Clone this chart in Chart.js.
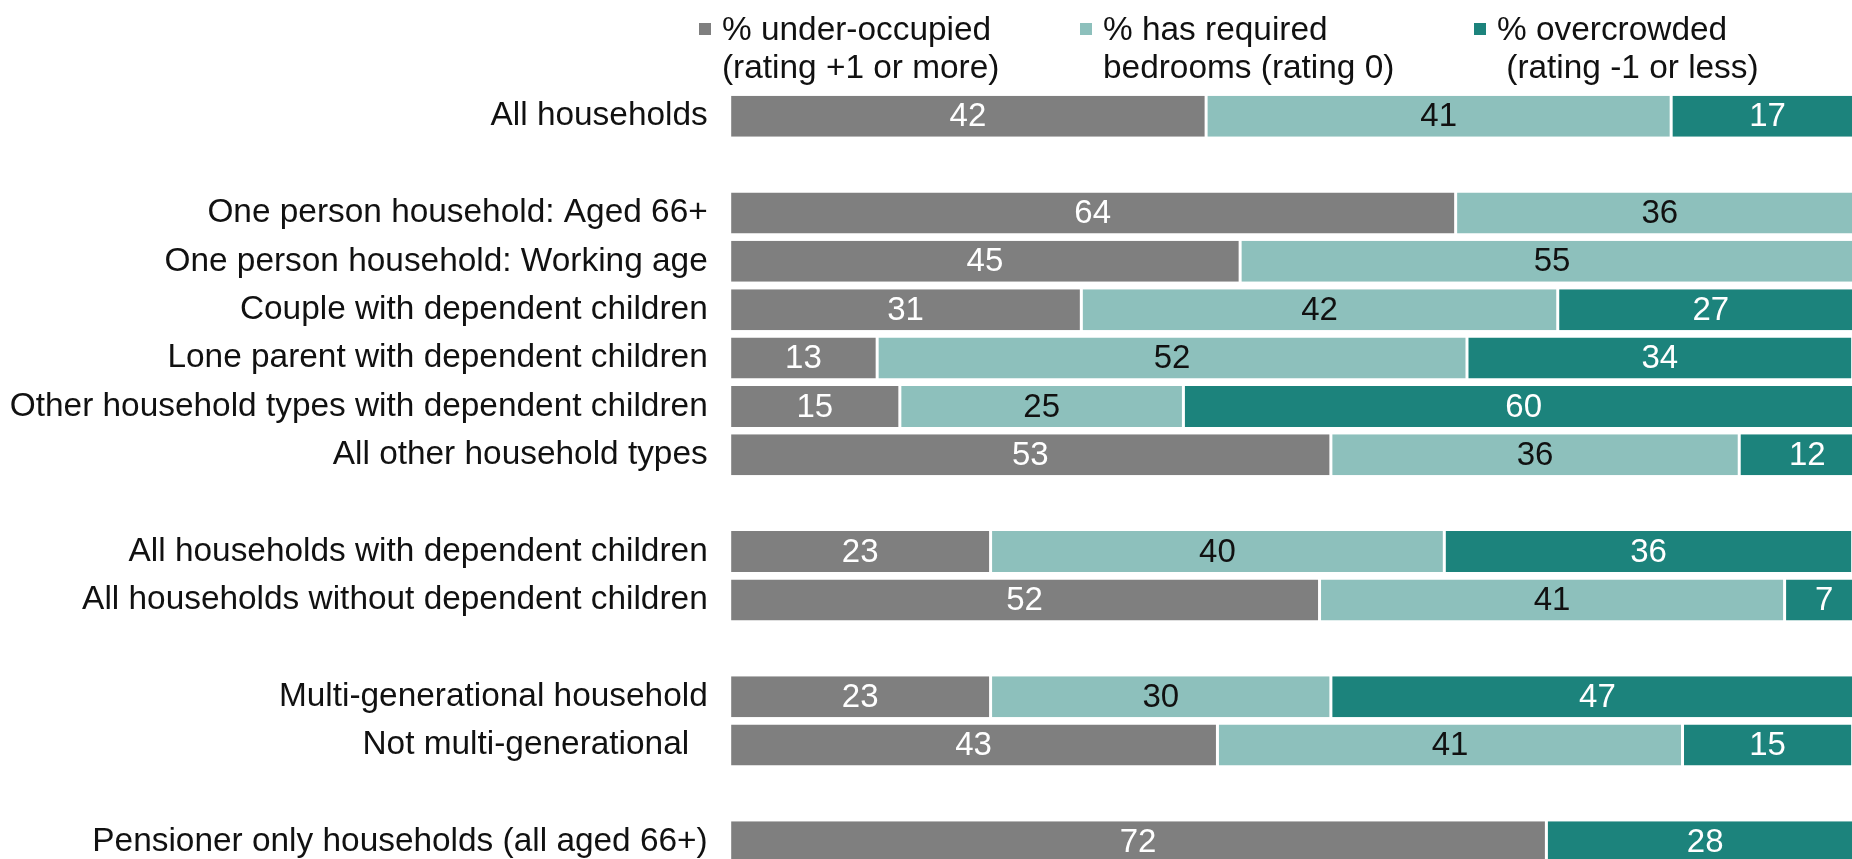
<!DOCTYPE html>
<html>
<head>
<meta charset="utf-8">
<script src="https://cdn.jsdelivr.net/npm/chart.js@4"></script>
<style>
  html, body { margin: 0; padding: 0; background: #ffffff; overflow: hidden; }
  #chart { position: absolute; left: 0; top: 0; }
</style>
</head>
<body>
<canvas id="chart" width="1870" height="866"></canvas>
<script>
// Household groups; empty strings are spacer rows between groups
const categories = [
  'All households',
  '',
  'One person household: Aged 66+',
  'One person household: Working age',
  'Couple with dependent children',
  'Lone parent with dependent children',
  'Other household types with dependent children',
  'All other household types',
  '',
  'All households with dependent children',
  'All households without dependent children',
  '',
  'Multi-generational household',
  'Not multi-generational  ',
  '',
  'Pensioner only households (all aged 66+)'
];

// Percentages by bedroom occupancy rating
const underOccupied = [42, null, 64, 45, 31, 13, 15, 53, null, 23, 52, null, 23, 43, null, 72];
const hasRequired   = [41, null, 36, 55, 42, 52, 25, 36, null, 40, 41, null, 30, 41, null, 0];
const overcrowded   = [17, null, 0, 0, 27, 34, 60, 12, null, 36, 7, null, 47, 15, null, 28];

// Legend entries, two lines each
const seriesNames = [
  ['% under-occupied', '(rating +1 or more)'],
  ['% has required', 'bedrooms (rating 0)'],
  ['% overcrowded', ' (rating -1 or less)']
];

const FONT = '"Liberation Sans", Arial, Helvetica, sans-serif';
const TEXT_SIZE = 33.4;
const VALUE_SIZE = 33;
const colors = ['#7f7f7f', '#8dc0bc', '#1c837c'];
const labelColors = ['#ffffff', '#111111', '#ffffff'];

// Two-line legend drawn above the bars
const twoLineLegend = {
  id: 'twoLineLegend',
  afterDraw(chart, args, opts) {
    const ctx = chart.ctx;
    ctx.save();
    ctx.font = TEXT_SIZE + 'px ' + FONT;
    ctx.textAlign = 'left';
    ctx.textBaseline = 'alphabetic';
    chart.data.datasets.forEach((ds, i) => {
      const x = opts.x[i];
      ctx.fillStyle = ds.backgroundColor;
      ctx.fillRect(x, opts.boxY, opts.box, opts.box);
      ctx.fillStyle = opts.color;
      seriesNames[i].forEach((line, j) => {
        ctx.fillText(line, x + opts.textGap, opts.baseline + j * opts.lineHeight);
      });
    });
    ctx.restore();
  }
};

// Value labels centred in each segment
const segmentLabels = {
  id: 'segmentLabels',
  afterDatasetsDraw(chart) {
    const ctx = chart.ctx;
    ctx.save();
    ctx.font = VALUE_SIZE + 'px ' + FONT;
    ctx.textAlign = 'center';
    ctx.textBaseline = 'middle';
    chart.data.datasets.forEach((ds, i) => {
      const meta = chart.getDatasetMeta(i);
      meta.data.forEach((bar, j) => {
        const v = ds.data[j];
        if (!v) return;
        const p = bar.getProps(['x', 'y', 'base'], true);
        ctx.fillStyle = labelColors[i];
        ctx.fillText(String(v), (p.x + p.base) / 2, p.y + 1);
      });
    });
    ctx.restore();
  }
};

const mkDataset = (i, data) => ({
  label: seriesNames[i].join(' '),
  data: data,
  backgroundColor: colors[i],
  borderColor: '#ffffff',
  borderWidth: { left: 1.5, right: 1.5, top: 0, bottom: 0 },
  borderSkipped: false,
  barPercentage: 0.85,
  categoryPercentage: 1.0
});

new Chart(document.getElementById('chart'), {
  type: 'bar',
  data: {
    labels: categories,
    datasets: [
      mkDataset(0, underOccupied),
      mkDataset(1, hasRequired),
      mkDataset(2, overcrowded)
    ]
  },
  options: {
    indexAxis: 'y',
    responsive: false,
    animation: false,
    devicePixelRatio: 1,
    layout: { padding: { top: 92, right: 6, bottom: 0, left: 0 } },
    scales: {
      x: { stacked: true, min: 0, max: 100, display: false },
      y: {
        stacked: true,
        grid: { display: false, drawTicks: false },
        border: { display: false },
        ticks: {
          autoSkip: false,
          padding: 22,
          color: '#111111',
          font: { family: FONT, size: TEXT_SIZE }
        },
        afterFit(scale) {
          scale.width = 729.7;
          // rows fill the full height; no extra room for label overhang
          scale.paddingTop = 0;
          scale.paddingBottom = 0;
        }
      }
    },
    plugins: {
      legend: { display: false },
      tooltip: { enabled: false },
      twoLineLegend: {
        x: [699, 1080, 1474],
        box: 12,
        boxY: 23,
        textGap: 23,
        baseline: 40,
        lineHeight: 38,
        color: '#111111'
      }
    }
  },
  plugins: [twoLineLegend, segmentLabels]
});
</script>
</body>
</html>
